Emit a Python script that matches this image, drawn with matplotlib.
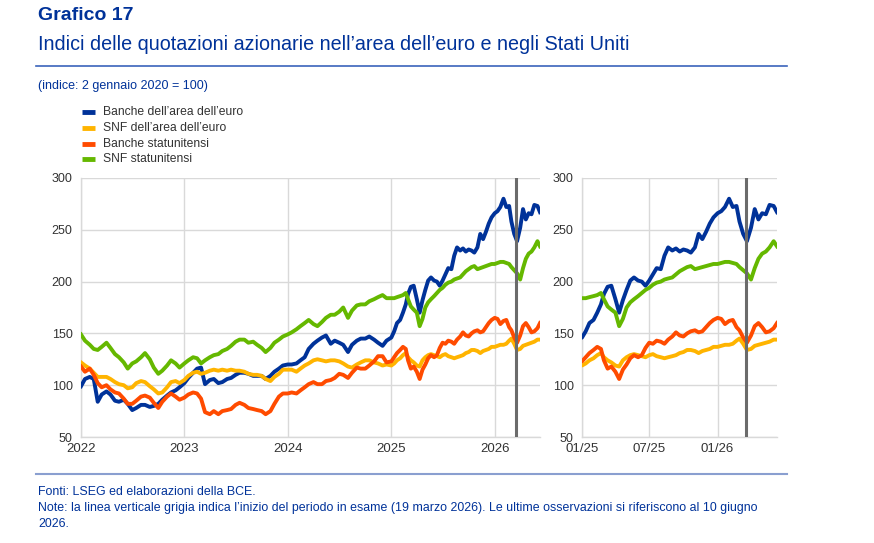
import matplotlib
matplotlib.use('Agg')
import matplotlib.pyplot as plt
import pandas as pd
from matplotlib.lines import Line2D

plt.rcParams['font.family'] = ['Liberation Sans', 'DejaVu Sans']

# ---------------- data ----------------
# 2022-2024: observations on the 1st and 15th of each month
dates_hist = list(pd.date_range('2022-01-01', '2024-12-15', freq='SMS'))
# 2025-2026: observations on the 1st, 11th and 21st of each month, last obs 10 June 2026
dates_recent = [pd.Timestamp(2025 + m // 12, m % 12 + 1, d) for m in range(17) for d in (1, 11, 21)]
dates_recent += [pd.Timestamp('2026-06-01'), pd.Timestamp('2026-06-10')]

banche_euro_hist = [99, 106, 108, 106, 84, 91, 94, 91, 85, 84, 86, 82, 76, 78, 81, 81, 79, 80, 82, 86, 90, 93, 95, 98,
                    102, 107, 112, 116, 117, 101, 105, 106, 102, 103, 106, 107, 110, 112, 112, 111, 109, 109, 109, 106, 109, 113, 116, 119,
                    120, 120, 121, 124, 127, 135, 140, 143, 146, 148, 140, 143, 141, 139, 132, 139, 143, 145, 145, 147, 144, 141, 138, 143]
banche_euro_recent = [146, 152, 160, 163, 170, 178, 188, 195, 196, 183, 170, 182, 192, 201, 204, 201, 200, 196,
                      201, 207, 213, 212, 225, 233, 230, 232, 229, 231, 230, 228, 233, 246, 241, 248, 256, 262,
                      266, 268, 272, 280, 272, 273, 258, 246, 239, 252, 270, 260, 266, 265, 274, 273, 267]

snf_euro_hist = [122, 119, 116, 112, 108, 108, 108, 106, 103, 101, 100, 97, 98, 102, 104, 103, 99, 96, 92, 93, 98, 103, 104, 102,
                 105, 109, 112, 113, 111, 112, 114, 115, 114, 115, 114, 115, 114, 114, 113, 111, 110, 110, 109, 106, 104, 108, 111, 115,
                 115, 115, 113, 116, 119, 121, 124, 125, 124, 123, 124, 124, 123, 121, 118, 117, 120, 122, 124, 124, 122, 121, 119, 120]
snf_euro_recent = [119, 121, 124, 126, 129, 131, 127, 124, 122, 119, 118, 124, 127, 129, 130, 129, 128, 127,
                   129, 130, 128, 127, 126, 127, 128, 129, 131, 132, 134, 134, 133, 131, 133, 134, 135, 137,
                   137, 138, 139, 139, 140, 143, 145, 140, 134, 135, 138, 139, 140, 141, 142, 144, 144]

banche_usa_hist = [118, 113, 116, 110, 102, 98, 100, 96, 93, 92, 87, 82, 82, 85, 89, 90, 88, 83, 78, 84, 89, 92, 89, 86,
                   88, 91, 93, 92, 87, 74, 72, 75, 72, 75, 76, 77, 81, 83, 81, 78, 77, 76, 75, 72, 75, 82, 89, 92,
                   92, 93, 92, 95, 98, 101, 103, 101, 101, 104, 105, 107, 111, 110, 107, 112, 117, 116, 116, 119, 123, 128, 128, 122]
banche_usa_recent = [123, 127, 131, 134, 137, 135, 124, 116, 118, 113, 106, 115, 120, 126, 129, 127, 129, 136,
                     141, 140, 143, 142, 140, 144, 147, 151, 148, 147, 150, 152, 153, 151, 152, 156, 160, 163,
                     165, 164, 159, 162, 163, 156, 153, 146, 141, 148, 157, 160, 156, 151, 152, 155, 160]

snf_usa_hist = [149, 143, 139, 135, 134, 137, 141, 136, 130, 127, 122, 116, 121, 123, 127, 131, 125, 117, 111, 114, 119, 124, 121, 117,
                121, 124, 127, 126, 121, 124, 127, 129, 130, 133, 135, 138, 142, 144, 144, 141, 142, 139, 136, 132, 136, 141, 144, 147,
                149, 151, 154, 157, 160, 163, 159, 157, 161, 165, 168, 168, 171, 175, 165, 172, 177, 178, 178, 181, 183, 185, 187, 184]
snf_usa_recent = [184, 184, 185, 186, 187, 189, 183, 176, 173, 170, 157, 164, 175, 180, 183, 186, 189, 192,
                  194, 197, 199, 200, 202, 203, 204, 207, 210, 212, 214, 215, 212, 213, 214, 215, 216, 217,
                  217, 218, 219, 219, 218, 217, 214, 211, 208, 202, 213, 222, 227, 229, 233, 239, 234]

series_labels = ['Banche dell\u2019area dell\u2019euro', 'SNF dell\u2019area dell\u2019euro',
                 'Banche statunitensi', 'SNF statunitensi']
series_colors = ['#003299', '#FFB400', '#FF4B00', '#65B800']

left_xticks = ['2022-01-01', '2023-01-01', '2024-01-01', '2025-01-01', '2026-01-01']
left_xlabels = ['2022', '2023', '2024', '2025', '2026']
right_xticks = ['2025-01-01', '2025-07-01', '2026-01-01']
right_xlabels = ['01/25', '07/25', '01/26']
yticks = [50, 100, 150, 200, 250, 300]
start_review = '2026-03-19'

# ---------------- figure ----------------
W, H = 874, 543
fig = plt.figure(figsize=(W / 100, H / 100), dpi=100)

def fx(px):
    return px / W

def fy(py):
    return 1 - py / H

dates = dates_hist + dates_recent
series = [banche_euro_hist + banche_euro_recent,
          snf_euro_hist + snf_euro_recent,
          banche_usa_hist + banche_usa_recent,
          snf_usa_hist + snf_usa_recent]

ax1 = fig.add_axes([fx(81), fy(437), fx(540) - fx(81), fy(178) - fy(437)])
ax2 = fig.add_axes([fx(582), fy(437), fx(777) - fx(582), fy(178) - fy(437)])

grid_c = '#d9d9d9'
for ax, xt, xl, xlim in [(ax1, left_xticks, left_xlabels, ('2022-01-01', '2026-06-10')),
                         (ax2, right_xticks, right_xlabels, ('2025-01-01', '2026-06-10'))]:
    for vals, col in zip(series, series_colors):
        ax.plot(dates, vals, color=col, lw=2.8, solid_joinstyle='round', zorder=3)
    ax.axvline(pd.Timestamp(start_review), color='#6b6b6b', lw=2.2, zorder=5)
    ax.set_xlim(pd.Timestamp(xlim[0]), pd.Timestamp(xlim[1]))
    ax.set_ylim(50, 300)
    ax.set_yticks(yticks)
    ax.set_xticks([pd.Timestamp(t) for t in xt])
    ax.set_xticklabels(xl)
    ax.grid(True, color=grid_c, lw=1, zorder=0)
    ax.set_axisbelow(True)
    for s in ['top', 'right']:
        ax.spines[s].set_visible(False)
    for s in ['left', 'bottom']:
        ax.spines[s].set_color(grid_c)
        ax.spines[s].set_linewidth(1)
    ax.tick_params(axis='y', length=0, labelsize=9, colors='#333333', pad=6)
    ax.tick_params(axis='x', length=0, labelsize=9.5, colors='#333333', pad=4)

# ---------------- header ----------------
blue = '#003299'
fig.text(fx(38), fy(15), 'Grafico 17', fontsize=14, fontweight='bold', color=blue, va='center')
fig.text(fx(38), fy(45), 'Indici delle quotazioni azionarie nell\u2019area dell\u2019euro e negli Stati Uniti',
         fontsize=14.2, color=blue, va='center')
fig.add_artist(Line2D([fx(36), fx(787)], [fy(66), fy(66)], color='#3b64bb', lw=1.2))
fig.text(fx(38), fy(86), '(indice: 2 gennaio 2020 = 100)', fontsize=9, color=blue, va='center')

# legend
for i, (lab, col) in enumerate(zip(series_labels, series_colors)):
    yy = fy(112 + 15.8 * i)
    fig.add_artist(Line2D([fx(82), fx(95)], [yy, yy], color=col, lw=3.5, solid_capstyle='butt'))
    fig.text(fx(103), yy, lab, fontsize=8.7, color='#333333', va='center')

# ---------------- footer ----------------
fig.add_artist(Line2D([fx(36), fx(787)], [fy(474), fy(474)], color='#8a9fd0', lw=1.5))
fig.text(fx(38), fy(492), 'Fonti: LSEG ed elaborazioni della BCE.', fontsize=8.9, color=blue, va='center')
fig.text(fx(38), fy(508), 'Note: la linea verticale grigia indica l\u2019inizio del periodo in esame (19 marzo 2026). '
         'Le ultime osservazioni si riferiscono al 10 giugno', fontsize=8.9, color=blue, va='center')
fig.text(fx(38), fy(524), '2026.', fontsize=8.9, color=blue, va='center')

fig.savefig('out.png', dpi=100)
